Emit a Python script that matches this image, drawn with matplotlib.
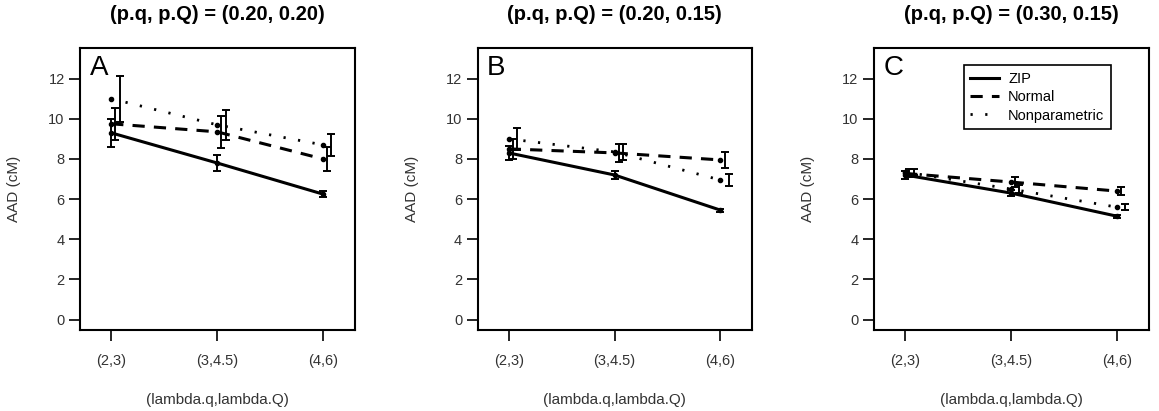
import numpy as np
import matplotlib
matplotlib.use('Agg')
import matplotlib.pyplot as plt

plt.rcParams['font.family'] = ['Liberation Sans', 'DejaVu Sans']

# x categories (lambda.q, lambda.Q)
x_pos = [1, 2, 3]
x_labels = ['(2,3)', '(3,4.5)', '(4,6)']
titles = ['(p.q, p.Q) = (0.20, 0.20)', '(p.q, p.Q) = (0.20, 0.15)', '(p.q, p.Q) = (0.30, 0.15)']
letters = ['A', 'B', 'C']
series_names = ['ZIP', 'Normal', 'Nonparametric']

# panel A
zip_a = [9.3, 7.8, 6.25]
zip_a_err = [0.7, 0.42, 0.15]
normal_a = [9.75, 9.35, 8.0]
normal_a_err = [0.8, 0.8, 0.6]
nonpar_a = [11.0, 9.7, 8.7]
nonpar_a_err = [1.15, 0.75, 0.55]

# panel B
zip_b = [8.3, 7.2, 5.45]
zip_b_err = [0.35, 0.2, 0.08]
normal_b = [8.5, 8.3, 7.95]
normal_b_err = [0.5, 0.45, 0.42]
nonpar_b = [9.0, 8.35, 6.95]
nonpar_b_err = [0.55, 0.4, 0.3]

# panel C
zip_c = [7.2, 6.3, 5.15]
zip_c_err = [0.2, 0.15, 0.08]
normal_c = [7.28, 6.85, 6.4]
normal_c_err = [0.2, 0.25, 0.2]
nonpar_c = [7.35, 6.5, 5.6]
nonpar_c_err = [0.15, 0.2, 0.15]

panels = [
    [(zip_a, zip_a_err), (normal_a, normal_a_err), (nonpar_a, nonpar_a_err)],
    [(zip_b, zip_b_err), (normal_b, normal_b_err), (nonpar_b, nonpar_b_err)],
    [(zip_c, zip_c_err), (normal_c, normal_c_err), (nonpar_c, nonpar_c_err)],
]

styles = ['-', (0, (4, 3)), (0, (0.8, 4.5))]
widths = [2.2, 2.2, 2.0]
offsets = [0.0, 0.04, 0.08]

fig = plt.figure(figsize=(11.59, 4.11), dpi=100)
lefts = [0.069, 0.412, 0.754]
tick_col = '#333333'

for p in range(3):
    ax = fig.add_axes([lefts[p], 0.197, 0.237, 0.686])
    for s in range(3):
        vals, errs = panels[p][s]
        ax.plot(x_pos, vals, linestyle=styles[s], color='black', lw=widths[s],
                label=series_names[s], dash_capstyle='butt')
        ax.plot(x_pos, vals, 'o', color='black', ms=3)
        ax.errorbar(np.array(x_pos) + offsets[s], vals, yerr=errs, fmt='none',
                    ecolor='black', elinewidth=1.4, capsize=3, capthick=1.4)
    ax.set_xlim(0.705, 3.3)
    ax.set_ylim(-0.52, 13.52)
    ax.set_yticks([0, 2, 4, 6, 8, 10, 12])
    ax.set_xticks(x_pos)
    ax.set_xticklabels(x_labels)
    ax.tick_params(axis='both', direction='out', length=8, width=1.2,
                   labelsize=10.5, labelcolor=tick_col)
    ax.tick_params(axis='x', pad=9)
    ax.tick_params(axis='y', pad=3)
    for sp in ax.spines.values():
        sp.set_linewidth(1.5)
    ax.set_ylabel('AAD (cM)', fontsize=11, color=tick_col)
    ax.yaxis.set_label_coords(-0.213, 0.5)
    ax.set_xlabel('(lambda.q,lambda.Q)', fontsize=11, color=tick_col)
    ax.xaxis.set_label_coords(0.5, -0.225)
    ax.set_title(titles[p], fontsize=14.5, fontweight='bold', pad=20)
    ax.text(0.035, 0.975, letters[p], transform=ax.transAxes, fontsize=20,
            va='top', ha='left')
    if p == 2:
        leg = ax.legend(loc='upper left', bbox_to_anchor=(0.3, 0.965), fontsize=10.5,
                        frameon=True, fancybox=False, handlelength=2.0,
                        borderpad=0.45, labelspacing=0.3, handletextpad=0.6,
                        framealpha=1)
        leg.get_frame().set_edgecolor('black')
        leg.get_frame().set_linewidth(1.2)

plt.savefig('out.png', dpi=100)
